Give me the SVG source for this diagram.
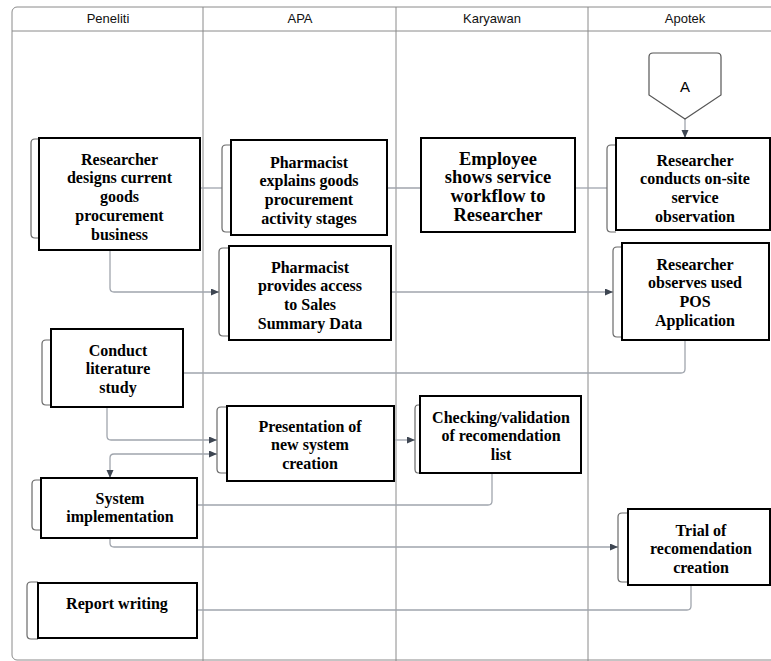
<svg xmlns="http://www.w3.org/2000/svg" width="771" height="661" viewBox="0 0 771 661">
<style>
.lane{fill:none;stroke:#8a8a8a;stroke-width:1}
.hdr{font-family:"Liberation Sans",Arial,sans-serif;font-size:13px;fill:#111;text-anchor:middle}
.box{fill:#fff;stroke:#000;stroke-width:2}
.brk{fill:none;stroke:#6a6a6a;stroke-width:1.2}
.t{font-family:"Liberation Serif","Times New Roman",serif;font-weight:bold;font-size:16px;fill:#000;text-anchor:middle}
.big{font-size:18.5px}
.c{fill:none;stroke:#a0a5ad;stroke-width:1.3}
</style>
<defs>
<marker id="ah" markerUnits="userSpaceOnUse" markerWidth="9" markerHeight="8" refX="8" refY="3.5" orient="auto-start-reverse">
<path d="M0,0 L8,3.5 L0,7 Z" fill="#3e4652"/>
</marker>
</defs>
<rect width="771" height="661" fill="#fff"/>
<g id="lanes">
<rect class="lane" x="12" y="7" width="800" height="653" rx="5"/>
<line class="lane" x1="12" y1="31" x2="771" y2="31" stroke="#666"/>
<line class="lane" x1="203" y1="7" x2="203" y2="661"/>
<line class="lane" x1="396" y1="7" x2="396" y2="661"/>
<line class="lane" x1="588" y1="7" x2="588" y2="661"/>
<text class="hdr" x="108" y="23">Peneliti</text>
<text class="hdr" x="300" y="23">APA</text>
<text class="hdr" x="492" y="23">Karyawan</text>
<text class="hdr" x="685" y="23">Apotek</text>
</g>
<g id="connectors">
<path class="c" d="M200,188 H222"/>
<path class="c" d="M387,188 H421"/>
<path class="c" d="M575,188 H607"/>
<path class="c" d="M685,119 V138" marker-end="url(#ah)"/>
<path class="c" d="M110,250 V288 Q110,292 114,292 H219" marker-end="url(#ah)"/>
<path class="c" d="M391,292 H613" marker-end="url(#ah)"/>
<path class="c" d="M685,340 V369 Q685,373 681,373 H183"/>
<path class="c" d="M107,407 V436 Q107,440 111,440 H217" marker-end="url(#ah)"/>
<path class="c" d="M110,478 V458 Q110,454 114,454 H217" marker-start="url(#ah)" marker-end="url(#ah)"/>
<path class="c" d="M394,440 H415" marker-end="url(#ah)"/>
<path class="c" d="M492,473 V501 Q492,505 488,505 H197"/>
<path class="c" d="M110,538 V543 Q110,547 114,547 H618" marker-end="url(#ah)"/>
<path class="c" d="M691,585 V606 Q691,610 687,610 H197"/>
</g>
<g id="connectorA">
<path d="M653,53 H717 Q721,53 721,57 V95 L685,119 L649,95 V57 Q649,53 653,53 Z" fill="#fff" stroke="#555" stroke-width="1.2"/>
<text x="685" y="92" font-family="Liberation Sans,Arial,sans-serif" font-size="15" text-anchor="middle" fill="#000">A</text>
</g>
<g id="n1">
<path class="brk" d="M39,139 H35 Q31,139 31,143 V234 Q31,238 35,238 H39"/>
<rect class="box" x="39" y="138" width="161" height="112"/>
<text class="t" x="119.5" y="164.5"><tspan x="119.5">Researcher</tspan><tspan x="119.5" dy="18.8">designs current</tspan><tspan x="119.5" dy="18.8">goods</tspan><tspan x="119.5" dy="18.8">procurement</tspan><tspan x="119.5" dy="18.8">business</tspan></text>
</g>
<g id="n2">
<path class="brk" d="M231,145 H226 Q222,145 222,149 V228 Q222,232 226,232 H231"/>
<rect class="box" x="231" y="140" width="156" height="95"/>
<text class="t" x="309" y="167.5"><tspan x="309">Pharmacist</tspan><tspan x="309" dy="18.7">explains goods</tspan><tspan x="309" dy="18.7">procurement</tspan><tspan x="309" dy="18.7">activity stages</tspan></text>
</g>
<g id="n3">
<rect class="box" x="421" y="138" width="154" height="94"/>
<text class="t big" x="498" y="164.5"><tspan x="498">Employee</tspan><tspan x="498" dy="18.7">shows service</tspan><tspan x="498" dy="18.7">workflow to</tspan><tspan x="498" dy="18.7">Researcher</tspan></text>
</g>
<g id="n5">
<path class="brk" d="M616,145 H611 Q607,145 607,149 V228 Q607,232 611,232 H616"/>
<rect class="box" x="616" y="138" width="154" height="92"/>
<text class="t" x="695" y="165.5"><tspan x="695">Researcher</tspan><tspan x="695" dy="18.7">conducts on-site</tspan><tspan x="695" dy="18.7">service</tspan><tspan x="695" dy="18.7">observation</tspan></text>
</g>
<g id="n6">
<path class="brk" d="M229,248 H223 Q219,248 219,252 V332 Q219,336 223,336 H229"/>
<rect class="box" x="229" y="246" width="162" height="94"/>
<text class="t" x="310" y="272.5"><tspan x="310">Pharmacist</tspan><tspan x="310" dy="18.7">provides access</tspan><tspan x="310" dy="18.7">to Sales</tspan><tspan x="310" dy="18.7">Summary Data</tspan></text>
</g>
<g id="n7">
<path class="brk" d="M622,247 H617 Q613,247 613,251 V333 Q613,337 617,337 H622"/>
<rect class="box" x="622" y="243" width="147" height="97"/>
<text class="t" x="695" y="269.5"><tspan x="695">Researcher</tspan><tspan x="695" dy="18.7">observes used</tspan><tspan x="695" dy="18.7">POS</tspan><tspan x="695" dy="18.7">Application</tspan></text>
</g>
<g id="n8">
<path class="brk" d="M51,340 H46 Q42,340 42,344 V401 Q42,405 46,405 H51"/>
<rect class="box" x="51" y="329" width="132" height="78"/>
<text class="t" x="118" y="355.5"><tspan x="118">Conduct</tspan><tspan x="118" dy="18.7">literature</tspan><tspan x="118" dy="18.7">study</tspan></text>
</g>
<g id="n9">
<path class="brk" d="M227,407 H221 Q217,407 217,411 V469 Q217,473 221,473 H227"/>
<rect class="box" x="227" y="406" width="167" height="75"/>
<text class="t" x="310" y="431.5"><tspan x="310">Presentation of</tspan><tspan x="310" dy="18.7">new system</tspan><tspan x="310" dy="18.7">creation</tspan></text>
</g>
<g id="n10">
<path class="brk" d="M420,405 H418 Q415,405 415,409 V469 Q415,473 418,473 H420"/>
<rect class="box" x="420" y="396" width="161" height="77"/>
<text class="t" x="501" y="422.5"><tspan x="501">Checking/validation</tspan><tspan x="501" dy="18.7">of recomendation</tspan><tspan x="501" dy="18.7">list</tspan></text>
</g>
<g id="n11">
<path class="brk" d="M41,480 H36 Q32,480 32,484 V526 Q32,530 36,530 H41"/>
<rect class="box" x="41" y="478" width="156" height="60"/>
<text class="t" x="120" y="503.5"><tspan x="120">System</tspan><tspan x="120" dy="18.7">implementation</tspan></text>
</g>
<g id="n12">
<path class="brk" d="M38,582 H31 Q27,582 27,586 V635 Q27,639 31,639 H38"/>
<rect class="box" x="38" y="583" width="159" height="55"/>
<text class="t" x="117" y="608.5">Report writing</text>
</g>
<g id="n13">
<path class="brk" d="M628,513 H622 Q618,513 618,517 V578 Q618,582 622,582 H628"/>
<rect class="box" x="628" y="509" width="142" height="76"/>
<text class="t" x="701" y="535.5"><tspan x="701">Trial of</tspan><tspan x="701" dy="18.7">recomendation</tspan><tspan x="701" dy="18.7">creation</tspan></text>
</g>
</svg>
